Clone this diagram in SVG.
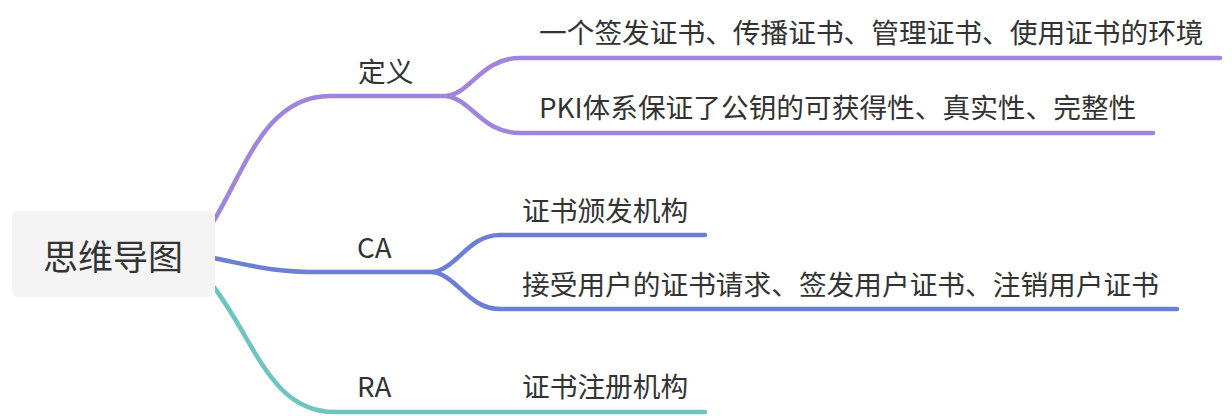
<svg xmlns="http://www.w3.org/2000/svg" width="1232" height="416" viewBox="0 0 1232 416">
<style>
.t{font-family:"Noto Sans CJK SC","Noto Sans",sans-serif;font-size:27.7px;fill:#333;dominant-baseline:central}
.root{font-size:35px;text-anchor:middle}
.ln{fill:none;stroke-width:4.5;stroke-linecap:round;stroke-linejoin:round}
.p{stroke:#a184db}.b{stroke:#6b7fd7}.g{stroke:#6dc4c0}
</style>
<rect width="1232" height="416" fill="#fff"/>
<g id="connectors">
<path class="ln p" d="M213 222 C245 170 265 96 330 96 L447 96"/>
<path class="ln p" d="M447 96 C472 92 482 58 520 58 L1220 58"/>
<path class="ln p" d="M447 96 C472 100 482 133 520 133 L1153 133"/>
<path class="ln b" d="M213 258 C250 265 270 272 320 272 L433 272"/>
<path class="ln b" d="M433 272 C458 268 468 235 500 235 L705 235"/>
<path class="ln b" d="M433 272 C458 276 468 309 500 309 L1177 309"/>
<path class="ln g" d="M213 286 C255 340 270 412 335 412 L705 412"/>
</g>
<g id="root">
<rect x="12" y="211" width="203" height="86" rx="6" fill="#f4f4f4"/>
<text class="t root" x="113" y="254">思维导图</text>
</g>
<g id="def"><text class="t" x="358" y="70">定义</text></g>
<g id="def1"><text class="t" x="539" y="31">一个签发证书、传播证书、管理证书、使用证书的环境</text></g>
<g id="def2"><text class="t" x="539" y="106">PKI体系保证了公钥的可获得性、真实性、完整性</text></g>
<g id="ca"><text class="t" x="357" y="246">CA</text></g>
<g id="ca1"><text class="t" x="522" y="209">证书颁发机构</text></g>
<g id="ca2"><text class="t" x="522" y="283">接受用户的证书请求、签发用户证书、注销用户证书</text></g>
<g id="ra"><text class="t" x="357" y="385">RA</text></g>
<g id="ra1"><text class="t" x="522" y="385">证书注册机构</text></g>
</svg>
